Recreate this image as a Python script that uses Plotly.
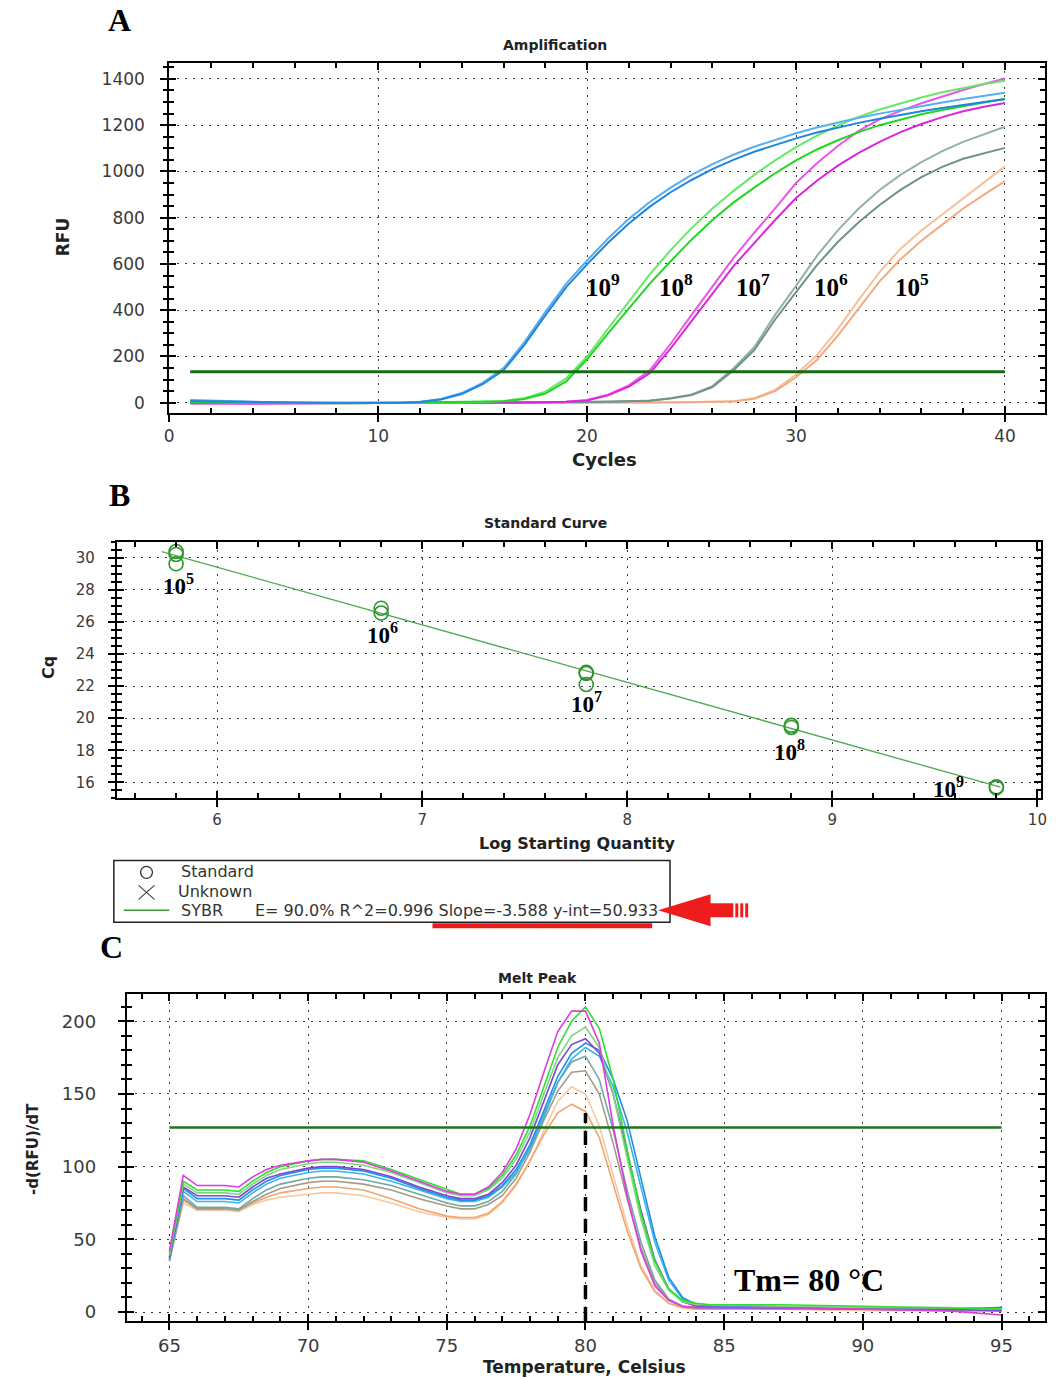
import plotly.graph_objects as go

# ====================== DATA ======================
# --- Panel A: amplification (RFU per cycle, two replicates per dilution)
cycles = list(range(1, 41))
amp_blue_a = [12, 9, 6, 4, 2, 1, 0, -1, -1, -2, -1,
              4, 16, 42, 86, 150, 262, 392, 515, 615, 710, 795, 868, 930, 985, 1032, 1072, 1107, 1137,
              1165, 1190, 1212, 1232, 1250, 1267, 1283, 1298, 1313, 1327, 1340]
amp_blue_b = [8, 6, 4, 3, 2, 1, 0, -1, -2, -2, -1,
              3, 14, 38, 80, 140, 250, 378, 500, 598, 692, 775, 848, 910, 963, 1010, 1050, 1085, 1115,
              1143, 1168, 1190, 1210, 1228, 1245, 1260, 1274, 1288, 1300, 1312]
amp_green_a = [3, 2, 1, 0, 0, -1, -1, -1, -1, -1, -1, 0, 0, 1, 3,
               8, 20, 48, 105, 200, 320, 440, 555, 660, 755, 840, 915, 985, 1048, 1105, 1155, 1198,
               1236, 1268, 1295, 1320, 1342, 1361, 1378, 1392]
amp_green_b = [2, 1, 0, 0, -1, -1, -1, -2, -2, -1, -1, -1, 0, 1, 2,
               6, 16, 40, 92, 188, 300, 410, 515, 612, 705, 790, 865, 930, 992, 1048, 1095, 1135,
               1170, 1200, 1225, 1247, 1266, 1283, 1299, 1314]
amp_magenta_a = [-3, -4, -4, -3, -3, -2, -2, -2, -1, -1, -1, -1, 0, 0, 0, 1, 1, 2,
                 4, 12, 35, 75, 140, 255, 380, 505, 625, 735, 840, 950, 1035, 1110, 1175, 1225, 1262,
                 1295, 1325, 1352, 1378, 1402]
amp_magenta_b = [-2, -3, -3, -3, -2, -2, -2, -1, -1, -1, -1, 0, 0, 0, 0, 1, 1, 2,
                 4, 10, 32, 70, 128, 235, 355, 475, 590, 690, 790, 885, 960, 1025, 1080, 1128, 1170,
                 1205, 1235, 1260, 1280, 1296]
amp_grey_a = [2, 1, 0, 0, -1, -1, -1, -1, 0, 0, 0, 0, 1, 1, 1, 1, 2, 2, 2, 3, 4,
              6, 10, 20, 36, 72, 148, 240, 380, 505, 635, 745, 840, 920, 985, 1040, 1088, 1128, 1162, 1193]
amp_grey_b = [1, 0, 0, -1, -1, -1, -1, -1, 0, 0, 0, 0, 0, 1, 1, 1, 1, 2, 2, 3, 4,
              5, 9, 18, 33, 68, 140, 228, 360, 478, 595, 695, 780, 855, 920, 975, 1020, 1055, 1080, 1102]
amp_orange_a = [0, -1, -2, -2, -2, -2, -2, -1, -1, -1, -1, -1, -1, -1, -1, 0, 0, 0, 0, 0, 1, 1, 1, 2, 3,
                4, 6, 20, 56, 122, 205, 318, 445, 565, 665, 745, 815, 885, 955, 1022]
amp_orange_b = [-1, -2, -2, -3, -3, -2, -2, -2, -1, -1, -1, -1, -1, -1, -1, -1, 0, 0, 0, 0, 0, 1, 1, 1, 2,
                3, 5, 17, 50, 110, 185, 290, 410, 525, 620, 700, 770, 840, 900, 958]
amp_threshold = 134
amp_thr_cycles = [1, 40]
dilution_labels = ["10<sup>9</sup>", "10<sup>8</sup>", "10<sup>7</sup>", "10<sup>6</sup>", "10<sup>5</sup>"]

# --- Panel B: standard curve
std_logq = [5.8, 5.8, 5.8, 6.8, 6.8, 7.8, 7.8, 7.8, 8.8, 8.8, 9.8, 9.8]
std_cq = [30.38, 30.2, 29.62, 26.85, 26.55, 22.85, 22.78, 22.1, 19.55, 19.42, 15.72, 15.66]
fit_x = [5.73, 9.82]
fit_y = [30.37, 15.70]
std_labels = ["10<sup>5</sup>", "10<sup>6</sup>", "10<sup>7</sup>", "10<sup>8</sup>", "10<sup>9</sup>"]
fit_text = "E= 90.0% R^2=0.996 Slope=-3.588 y-int=50.933"

# --- Panel C: melt peak  -d(RFU)/dT vs temperature
melt_temp = [65, 65.5, 66, 67, 67.5, 68, 68.5, 69, 70, 70.5, 71, 72, 73, 74, 75, 75.5, 76, 76.5, 77,
             77.5, 78, 78.5, 79, 79.5, 80, 80.5, 81, 81.5, 82, 82.5, 83, 83.5, 84, 84.5, 85, 87, 90, 93, 95]
melt_magenta = [42, 94, 87, 87, 86, 93, 98, 101, 104, 105, 105, 103, 97, 90, 83, 81, 81, 86, 96,
                112, 136, 165, 193, 207, 207, 185, 128, 80, 42, 18, 8, 4, 3, 3, 3, 3, 2, 1, -2]
melt_lime = [40, 90, 84, 84, 83, 90, 96, 100, 104, 105, 105, 104, 98, 91, 84, 81, 81, 85, 94,
             108, 128, 155, 182, 200, 210, 195, 160, 112, 68, 35, 16, 8, 6, 5, 5, 5, 4, 3, 2]
melt_lightgreen = [39, 88, 82, 82, 81, 88, 94, 98, 102, 103, 103, 101, 96, 89, 82, 80, 80, 84, 92,
                   105, 124, 150, 175, 190, 196, 182, 150, 106, 64, 32, 15, 7, 5, 5, 5, 4, 3, 3, 2]
melt_purple = [38, 86, 80, 80, 79, 86, 92, 95, 99, 100, 100, 98, 93, 86, 80, 78, 78, 81, 89,
               101, 120, 145, 170, 184, 188, 178, 150, 110, 70, 36, 16, 7, 4, 3, 3, 3, 2, 2, 1]
melt_blue = [37, 85, 78, 78, 77, 84, 90, 94, 98, 99, 99, 97, 92, 85, 79, 77, 77, 80, 87,
             98, 115, 138, 162, 178, 185, 180, 160, 132, 92, 52, 24, 10, 5, 4, 3, 3, 3, 2, 3]
melt_cyan = [36, 83, 76, 76, 75, 82, 88, 92, 96, 97, 97, 95, 90, 84, 78, 76, 76, 79, 86,
             96, 112, 134, 158, 174, 182, 176, 155, 124, 85, 48, 22, 9, 5, 4, 4, 3, 3, 2, 3]
melt_teal = [36, 80, 72, 72, 71, 78, 84, 88, 92, 93, 93, 91, 87, 81, 75, 73, 73, 76, 83,
             95, 113, 136, 158, 172, 176, 160, 125, 84, 48, 22, 9, 4, 3, 3, 3, 3, 2, 2, 1]
melt_greybrown = [35, 78, 71, 71, 70, 76, 81, 85, 89, 90, 90, 88, 84, 78, 73, 71, 71, 74, 80,
                  92, 110, 132, 152, 165, 166, 150, 116, 78, 44, 20, 8, 4, 3, 3, 3, 2, 2, 1, 1]
melt_orange = [36, 77, 71, 71, 70, 75, 79, 82, 85, 86, 86, 84, 78, 71, 66, 65, 65, 68, 76,
               88, 104, 122, 137, 143, 138, 120, 88, 56, 30, 14, 6, 3, 2, 2, 2, 2, 2, 1, 1]
melt_lightorange = [35, 75, 70, 70, 69, 74, 77, 79, 81, 82, 82, 80, 75, 69, 65, 64, 64, 67, 75,
                    87, 104, 125, 145, 155, 150, 128, 94, 60, 32, 15, 6, 3, 2, 2, 2, 2, 1, 1, 1]
melt_threshold = 127
melt_thr_temp = [65, 95]
tm_value = 80
tm_line_top = 137

# ====================== LAYOUT HELPERS ======================
W, H = 1056, 1380


def px(x):
    return x / W


def py(y):
    return 1 - y / H


TICKFONT = dict(family="DejaVu Sans", size=17, color="#3a3a3a")
GRID = dict(showgrid=True, gridcolor="#3c3c3c", gridwidth=1, griddash="2px,6px")

fig = go.Figure()

# ---------------- Panel A traces ----------------
amp_series = [
    (amp_orange_a, "#f6c09c"), (amp_orange_b, "#f3aa80"),
    (amp_grey_a, "#93b0ab"), (amp_grey_b, "#6f928d"),
    (amp_magenta_a, "#ea55ea"), (amp_magenta_b, "#dc25dc"),
    (amp_green_a, "#66e866"), (amp_green_b, "#22d622"),
    (amp_blue_a, "#56aef0"), (amp_blue_b, "#1f86e0"),
]
for vals, col in amp_series:
    fig.add_trace(go.Scatter(x=cycles, y=vals, mode="lines", line=dict(color=col, width=2),
                             xaxis="x", yaxis="y", showlegend=False, hoverinfo="skip"))
fig.add_trace(go.Scatter(x=amp_thr_cycles, y=[amp_threshold, amp_threshold], mode="lines",
                         line=dict(color="#166b16", width=3), xaxis="x", yaxis="y",
                         showlegend=False, hoverinfo="skip"))

# ---------------- Panel B traces ----------------
fig.add_trace(go.Scatter(x=fit_x, y=fit_y, mode="lines", line=dict(color="#4fa84f", width=1.3),
                         xaxis="x2", yaxis="y2", showlegend=False, hoverinfo="skip"))
fig.add_trace(go.Scatter(x=std_logq, y=std_cq, mode="markers",
                         marker=dict(symbol="circle-open", size=14, color="#2f962f",
                                     line=dict(width=1.6, color="#2f962f")),
                         xaxis="x2", yaxis="y2", showlegend=False, hoverinfo="skip"))

# ---------------- Panel C traces ----------------
melt_series = [
    (melt_lightorange, "#f7c7a2"), (melt_orange, "#f2a46e"),
    (melt_greybrown, "#a29c86"), (melt_teal, "#6fa7a4"),
    (melt_cyan, "#3cb4e8"), (melt_blue, "#1e8fe8"),
    (melt_purple, "#7d44d8"), (melt_lightgreen, "#7fd67f"),
    (melt_lime, "#2fe02f"), (melt_magenta, "#e03ae0"),
]
for vals, col in melt_series:
    fig.add_trace(go.Scatter(x=melt_temp, y=vals, mode="lines", line=dict(color=col, width=1.6),
                             xaxis="x3", yaxis="y3", showlegend=False, hoverinfo="skip"))
fig.add_trace(go.Scatter(x=melt_thr_temp, y=[melt_threshold, melt_threshold], mode="lines",
                         line=dict(color="#1f731f", width=2.5), xaxis="x3", yaxis="y3",
                         showlegend=False, hoverinfo="skip"))
fig.add_trace(go.Scatter(x=[tm_value, tm_value], y=[-6.2, tm_line_top], mode="lines",
                         line=dict(color="black", width=3.5, dash="14px,8px"), xaxis="x3", yaxis="y3",
                         showlegend=False, hoverinfo="skip"))

# dummy traces for overlay tick axes
for xo, yo in [("x4", "y4"), ("x5", "y5"), ("x6", "y6")]:
    fig.add_trace(go.Scatter(x=[None], y=[None], xaxis=xo, yaxis=yo, showlegend=False, hoverinfo="skip"))


def main_axes(dom, rng, tick0, dtick, anchor, minor=None, standoff=0, font=TICKFONT):
    d = dict(domain=dom, range=rng, anchor=anchor, tick0=tick0, dtick=dtick,
             ticks="outside", ticklen=7, tickwidth=2, tickcolor="black",
             showline=True, linewidth=2, linecolor="black", mirror=True,
             zeroline=False, tickfont=font, fixedrange=True, ticklabelstandoff=standoff, **GRID)
    if minor is not None:
        d["minor"] = dict(dtick=minor, ticks="outside", ticklen=4, tickwidth=1.5,
                          tickcolor="black", showgrid=False)
    return d


def overlay_axes(over, rng, tick0, dtick, anchor, minor):
    return dict(overlaying=over, anchor=anchor, range=rng, tick0=tick0, dtick=dtick,
                ticks="inside", ticklen=7, tickwidth=2, tickcolor="black", mirror="ticks",
                showticklabels=False, showgrid=False, zeroline=False, showline=False, fixedrange=True,
                minor=dict(dtick=minor, ticks="inside", ticklen=5, tickwidth=1.5,
                           tickcolor="black", showgrid=False))


# Panel A geometry
A_x = [px(166), px(1051)]
A_y = [py(413), py(63)]
A_xr = [0, 41.92]
A_yr = [-43, 1469]
# Panel B geometry
B_x = [px(113), px(1047)]
B_y = [py(799), py(542)]
B_xr = [5.511, 10.018]
B_yr = [15.0, 31.0]
# Panel C geometry
C_x = [px(123), px(1051)]
C_y = [py(1322), py(995)]
C_xr = [63.46, 96.57]
C_yr = [-6.2, 218.6]

BFONT = dict(family="DejaVu Sans", size=15, color="#3a3a3a")
CFONT = dict(family="DejaVu Sans", size=18, color="#3a3a3a")

fig.update_layout(
    width=W, height=H, margin=dict(l=0, r=0, t=0, b=0),
    paper_bgcolor="white", plot_bgcolor="white", showlegend=False,
    xaxis=main_axes(A_x, A_xr, 0, 10, "y", standoff=0),
    yaxis=main_axes(A_y, A_yr, 0, 200, "x", minor=50, standoff=12),
    xaxis4=overlay_axes("x", A_xr, 0, 10, "y", 2),
    yaxis4=overlay_axes("y", A_yr, 0, 200, "x", 50),
    xaxis2=main_axes(B_x, B_xr, 6, 1, "y2", standoff=0, font=BFONT),
    yaxis2=main_axes(B_y, B_yr, 16, 2, "x2", minor=0.5, standoff=10, font=BFONT),
    xaxis5=overlay_axes("x2", B_xr, 6, 1, "y2", 0.2),
    yaxis5=overlay_axes("y2", B_yr, 16, 2, "x2", 0.5),
    xaxis3=main_axes(C_x, C_xr, 65, 5, "y3", standoff=0, font=CFONT),
    yaxis3=main_axes(C_y, C_yr, 0, 50, "x3", minor=10, standoff=18, font=CFONT),
    xaxis6=overlay_axes("x3", C_xr, 65, 5, "y3", 1),
    yaxis6=overlay_axes("y3", C_yr, 0, 50, "x3", 10),
)

ann = []


def paper_text(x, y, text, size, family="DejaVu Sans", color="#222", angle=0, xanchor="center"):
    ann.append(dict(x=px(x), y=py(y), xref="paper", yref="paper", text=text, showarrow=False,
                    font=dict(family=family, size=size, color=color), textangle=angle,
                    xanchor=xanchor, yanchor="middle", borderpad=0))


# panel letters
paper_text(116, 20, "<b>A</b>", 32, family="Liberation Serif", color="black")
paper_text(116, 495, "<b>B</b>", 32, family="Liberation Serif", color="black")
paper_text(108, 948, "<b>C</b>", 32, family="Liberation Serif", color="black")
# chart titles
paper_text(556, 45, "<b>Amplification</b>", 14)
paper_text(546, 523, "<b>Standard Curve</b>", 14)
paper_text(538, 979, "<b>Melt Peak</b>", 14)
# axis titles
paper_text(606, 460, "<b>Cycles</b>", 18)
paper_text(58, 237, "<b>RFU</b>", 17, angle=-90)
paper_text(579, 844, "<b>Log Starting Quantity</b>", 16)
paper_text(44, 668, "<b>Cq</b>", 16, angle=-90)
paper_text(586, 1368, "<b>Temperature, Celsius</b>", 17)
paper_text(28, 1150, "<b>-d(RFU)/dT</b>", 15, angle=-90)

# dilution labels, panel A (data coordinates)
amp_lab_x = [20.76, 24.27, 27.96, 31.66, 35.55]
for lx, lab in zip(amp_lab_x, dilution_labels):
    ann.append(dict(x=lx, y=510, xref="x", yref="y", text="<b>" + lab + "</b>", showarrow=False,
                    font=dict(family="Liberation Serif", size=25, color="black")))
# dilution labels, panel B
std_lab_pos = [(5.812, 28.32), (6.806, 25.27), (7.80, 20.98), (8.793, 17.99), (9.565, 15.69)]
for (lx, ly), lab in zip(std_lab_pos, std_labels):
    ann.append(dict(x=lx, y=ly, xref="x2", yref="y2", text="<b>" + lab + "</b>", showarrow=False,
                    font=dict(family="Liberation Serif", size=23, color="black")))
# Tm text, panel C
ann.append(dict(x=88.07, y=22, xref="x3", yref="y3", text="<b>Tm= %d °C</b>" % tm_value, showarrow=False,
                font=dict(family="Liberation Serif", size=32, color="black")))

# legend box texts
paper_text(177, 872, "Standard", 16, color="#333", xanchor="left")
paper_text(174, 892, "Unknown", 16, color="#333", xanchor="left")
paper_text(177, 911, "SYBR", 16, color="#333", xanchor="left")
paper_text(252, 911, fit_text, 16, color="#333", xanchor="left")

shapes = []


def pline(x0, y0, x1, y1, color, width):
    shapes.append(dict(type="line", xref="paper", yref="paper", x0=px(x0), y0=py(y0), x1=px(x1), y1=py(y1),
                       line=dict(color=color, width=width)))


def prect(x0, y0, x1, y1, fill, line_color=None, width=0):
    shapes.append(dict(type="rect", xref="paper", yref="paper", x0=px(x0), y0=py(y0), x1=px(x1), y1=py(y1),
                       fillcolor=fill, line=dict(color=line_color or fill, width=width)))


# legend box
prect(110, 861, 672, 923, "rgba(0,0,0,0)", "#222", 1.5)
shapes.append(dict(type="circle", xref="paper", yref="paper", x0=px(137), x1=px(149), y0=py(879), y1=py(867),
                   line=dict(color="#333", width=1.3)))
pline(135, 886, 151, 900, "#444", 1.2)
pline(135, 900, 151, 886, "#444", 1.2)
pline(120, 911, 166, 911, "#3a9a3a", 1.5)
# red underline
prect(432, 924, 654, 929, "#e81b1b")
# red arrow
path = "M {} {} L {} {} L {} {} L {} {} L {} {} L {} {} L {} {} Z".format(
    px(660), py(911), px(713), py(895), px(713), py(904), px(736), py(904),
    px(736), py(918), px(713), py(918), px(713), py(927))
shapes.append(dict(type="path", xref="paper", yref="paper", path=path, fillcolor="#ee1c1c",
                   line=dict(color="#ee1c1c", width=0)))
for bx in (738, 743, 748):
    prect(bx, 904, bx + 3, 918, "#ee1c1c")

fig.update_layout(annotations=ann, shapes=shapes)

fig.write_html("out.html")
